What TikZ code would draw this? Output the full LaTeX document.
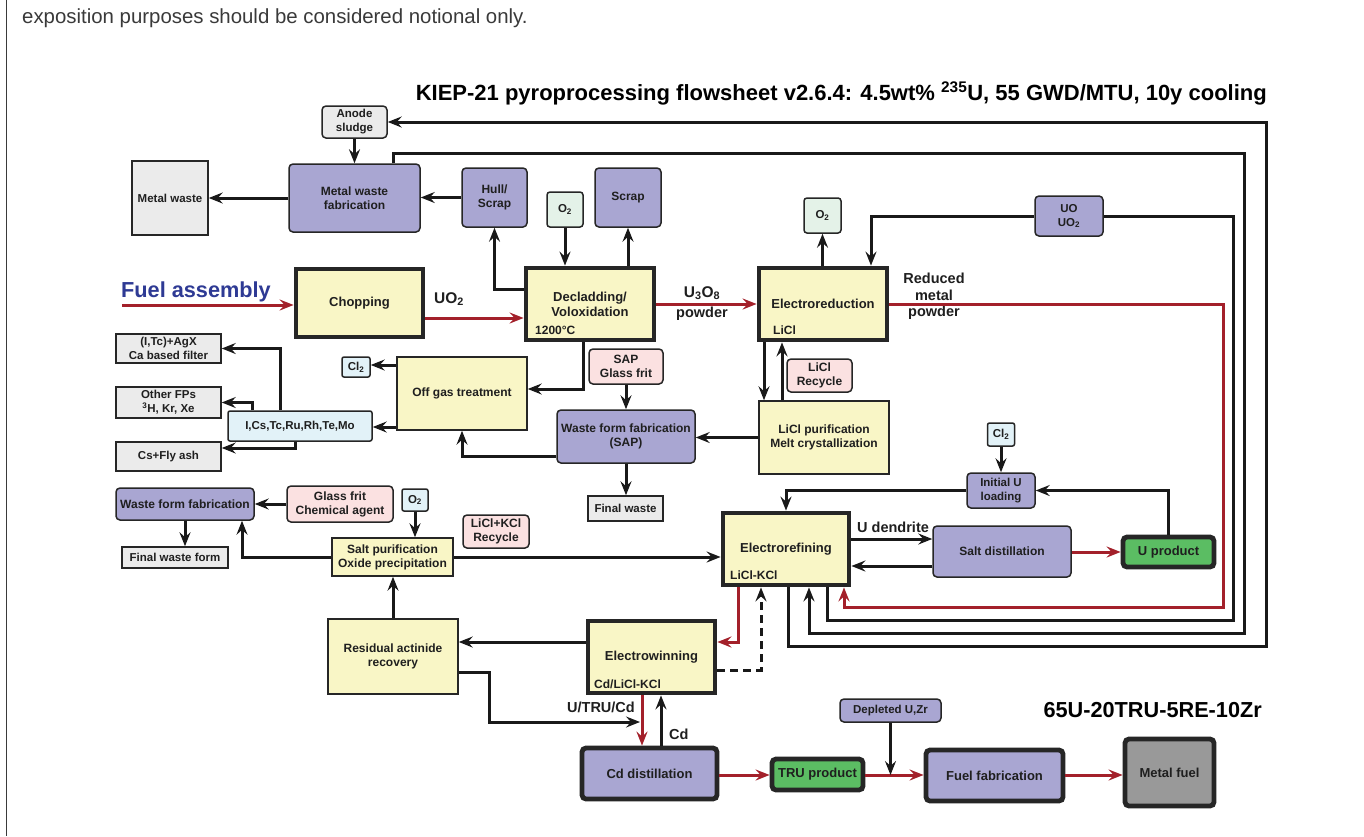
\documentclass[tikz,border=0pt]{standalone}
\usepackage{fontspec}
\setmainfont{Liberation Sans}
\usetikzlibrary{arrows.meta}

\definecolor{boxyellow}{HTML}{F9F6C6}
\definecolor{boxpurple}{HTML}{A9A6D2}
\definecolor{boxgray}{HTML}{EBEBEB}
\definecolor{boxpink}{HTML}{FBE1E1}
\definecolor{boxblue}{HTML}{E2F2F8}
\definecolor{boxmint}{HTML}{E4F2E8}
\definecolor{boxgreen}{HTML}{5BBD63}
\definecolor{boxdark}{HTML}{999999}
\definecolor{flowred}{HTML}{A3202A}
\definecolor{fuelblue}{HTML}{2E3A94}
\definecolor{notegray}{HTML}{3A3A3A}

\newcommand{\fsz}[2]{\fontsize{#1}{#2}\selectfont\bfseries}

\tikzset{
  box/.style={draw=black!85, line width=1.5pt, align=center, inner sep=0pt,
              text=black!88, font=\fsz{12}{14}},
  ybox/.style={box, fill=boxyellow},
  ythick/.style={ybox, line width=4.8pt, font=\fsz{13}{15}},
  pbox/.style={box, fill=boxpurple, rounded corners=4pt},
  pthick/.style={pbox, line width=4.8pt, font=\fsz{13}{15}},
  gbox/.style={box, fill=boxgray, font=\fsz{11.5}{14}},
  gsmall/.style={gbox, rounded corners=4pt},
  kbox/.style={box, fill=boxpink, rounded corners=4pt, font=\fsz{12}{14}},
  bbox/.style={box, fill=boxblue, rounded corners=2pt, font=\fsz{11.5}{14}},
  mbox/.style={box, fill=boxmint, rounded corners=3pt, font=\fsz{11.5}{14}},
  greenbox/.style={box, fill=boxgreen, rounded corners=4pt, line width=4.8pt, font=\fsz{13}{15}},
  fuelbox/.style={box, fill=boxdark, rounded corners=4pt, line width=4.8pt, font=\fsz{13}{15}},
  inlabel/.style={anchor=base west, inner sep=0pt, font=\fsz{12}{14}, text=black!88},
  flowlabel/.style={inner sep=0pt, font=\fsz{14.5}{15.5}, text=black!88},
  tip/.style={-{Stealth[length=14pt,width=11pt,inset=5pt]}},
  link/.style={line width=3pt, draw=black!90},
  arr/.style={link, tip},
  redarr/.style={line width=3pt, color=flowred, tip},
}

\begin{document}
\begin{tikzpicture}[x=1pt, y=-1pt]
  \useasboundingbox (0,0) rectangle (1364,836);
  \fill[white] (0,0) rectangle (1364,836);
  \draw[notegray, line width=1.6pt] (6.5,0) -- (6.5,836);

  % headings
  \node[anchor=base west, inner sep=0pt, text=notegray, font=\fontsize{20.4}{24}\selectfont] (note) at (22,23.5)
    {exposition purposes should be considered notional only.};
  \node[anchor=base east, inner sep=0pt, font=\fontsize{22}{26}\selectfont\bfseries] (title) at (1267,100)
    {KIEP-21 pyroprocessing flowsheet v2.6.4: 4.5wt\% \textsuperscript{235}U, 55 GWD/MTU, 10y cooling};
  \node[anchor=base east, inner sep=0pt, font=\fontsize{21.7}{24}\selectfont\bfseries] (alloy) at (1262,717)
    {65U-20TRU-5RE-10Zr};
  \node[anchor=base west, inner sep=0pt, text=fuelblue, font=\fontsize{21.7}{24}\selectfont\bfseries] (fuel) at (121,297)
    {Fuel assembly};
  \coordinate (feed) at (122,305);

  % head end
  \node[gsmall, minimum width=65pt, minimum height=32pt] (anode) at (354.5,122) {Anode\\sludge};
  \node[gbox, minimum width=76pt, minimum height=74pt] (metalwaste) at (170,198) {Metal waste};
  \node[pbox, minimum width=131pt, minimum height=68pt] (mwf) at (354.5,198) {Metal waste\\fabrication};
  \node[pbox, minimum width=65pt, minimum height=59pt] (hull) at (494.5,197.5) {Hull/\\Scrap};
  \node[ythick, minimum width=127pt, minimum height=68pt] (chop) at (359.5,303) {Chopping};
  \node[ythick, minimum width=128pt, minimum height=72pt] (decl) at (590,304) {Decladding/\\Voloxidation};
  \node[mbox, minimum width=36pt, minimum height=35pt] (o2a) at (565,209.5) {O\textsubscript{2}};
  \node[pbox, minimum width=66pt, minimum height=59pt] (scrap) at (628,197.5) {Scrap};
  \node[ythick, minimum width=128pt, minimum height=72pt] (elred) at (823,304) {Electroreduction};
  \node[mbox, minimum width=37pt, minimum height=35pt] (o2b) at (822.5,215.5) {O\textsubscript{2}};
  \node[pbox, minimum width=68pt, minimum height=40pt, font=\fsz{11.5}{14}] (uo) at (1069,216) {UO\\UO\textsubscript{2}};
  \node[inlabel] (decltemp) at (535,334) {1200°C};
  \node[inlabel] (elredsalt) at (773,334) {LiCl};

  % off gas
  \node[ybox, minimum width=130pt, minimum height=73pt] (offgas) at (462,393.5) {Off gas treatment};
  \node[bbox, minimum width=28pt, minimum height=20pt] (cl2a) at (356,367) {Cl\textsubscript{2}};
  \node[bbox, minimum width=144pt, minimum height=30pt] (ics) at (300,426) {I,Cs,Tc,Ru,Rh,Te,Mo};
  \node[gbox, minimum width=105pt, minimum height=29pt] (itc) at (168.5,348.5) {(I,Tc)+AgX\\Ca based filter};
  \node[gbox, minimum width=105pt, minimum height=31pt] (ofp) at (168.5,402.5) {Other FPs\\\textsuperscript{3}H, Kr, Xe};
  \node[gbox, minimum width=105pt, minimum height=29pt] (csfly) at (168.5,456.5) {Cs+Fly ash};

  % salt waste
  \node[kbox, minimum width=74pt, minimum height=35pt] (sapglass) at (626,366.5) {SAP\\Glass frit};
  \node[pbox, minimum width=138pt, minimum height=53pt] (sap) at (626,436.5) {Waste form fabrication\\(SAP)};
  \node[gbox, minimum width=75pt, minimum height=25pt] (finalwaste) at (625.5,508.5) {Final waste};
  \node[kbox, minimum width=65pt, minimum height=33pt] (licl) at (819.5,375.5) {LiCl\\Recycle};
  \node[ybox, minimum width=130pt, minimum height=73pt] (liclpur) at (824,437.5) {LiCl purification\\Melt crystallization};

  \node[pbox, minimum width=138pt, minimum height=32pt] (wffl) at (185,504) {Waste form fabrication};
  \node[kbox, minimum width=106pt, minimum height=36pt] (glassfrit) at (340,504) {Glass frit\\Chemical agent};
  \node[bbox, minimum width=26pt, minimum height=22pt] (o2c) at (415,500) {O\textsubscript{2}};
  \node[kbox, minimum width=66pt, minimum height=33pt] (liclkcl) at (496,531.5) {LiCl+KCl\\Recycle};
  \node[gbox, minimum width=106pt, minimum height=21pt] (finalwf) at (175,557.5) {Final waste form};
  \node[ybox, minimum width=121pt, minimum height=38pt] (saltpur) at (392.5,557) {Salt purification\\Oxide precipitation};

  % electrorefining
  \node[ythick, minimum width=126pt, minimum height=72pt] (er) at (786,549) {Electrorefining};
  \node[inlabel] (ersalt) at (730,579) {LiCl-KCl};
  \node[bbox, minimum width=27pt, minimum height=23pt] (cl2b) at (1001,434.5) {Cl\textsubscript{2}};
  \node[pbox, minimum width=68pt, minimum height=35pt, font=\fsz{11.5}{14}] (initu) at (1001,490.5) {Initial U\\loading};
  \node[pbox, minimum width=138pt, minimum height=51pt] (saltdist) at (1002,551.5) {Salt distillation};
  \node[greenbox, minimum width=91pt, minimum height=30pt] (uprod) at (1168.5,552) {U product};

  % electrowinning and fuel
  \node[ybox, minimum width=130pt, minimum height=75pt] (resid) at (393,656.5) {Residual actinide\\recovery};
  \node[ythick, minimum width=127pt, minimum height=72pt] (ew) at (651.5,657) {Electrowinning};
  \node[inlabel] (ewsalt) at (594,688) {Cd/LiCl-KCl};
  \node[pthick, minimum width=135pt, minimum height=51pt] (cddist) at (649.5,773.5) {Cd distillation};
  \node[greenbox, minimum width=91pt, minimum height=31pt] (tru) at (817.5,774.5) {TRU product};
  \node[pthick, minimum width=137pt, minimum height=51pt] (fuelfab) at (994.5,775.5) {Fuel fabrication};
  \node[fuelbox, minimum width=89pt, minimum height=67pt] (metalfuel) at (1169.5,772.5) {Metal fuel};
  \node[pbox, minimum width=101pt, minimum height=23pt, font=\fsz{11.5}{14}] (depl) at (890.5,710.5) {Depleted U,Zr};

  % stream labels
  \node[flowlabel, anchor=base west, font=\fsz{15.5}{17}] (uo2lbl) at (434,303) {UO\textsubscript{2}};
  \node[flowlabel, anchor=base, font=\fsz{15.5}{17}] (u3o8lbl) at (702,297) {U\textsubscript{3}O\textsubscript{8}};
  \node[flowlabel, anchor=base] (powderlbl) at (702,317) {powder};
  \node[flowlabel, anchor=north, align=center, font=\fsz{14.5}{16.5}] (rmplbl) at (934,273) {Reduced\\metal\\powder};
  \node[flowlabel, anchor=base west] (dendlbl) at (857,532) {U dendrite};
  \node[flowlabel, anchor=base east] (utrulbl) at (635,712) {U/TRU/Cd};
  \node[flowlabel, anchor=base west] (cdlbl) at (669,739) {Cd};
  \coordinate (redjoin) at (640,722);

  % main red product route
  \draw[redarr] (feed) -- (chop.west |- feed);
  \draw[redarr] (chop.east |- 0,318) -- (decl.west |- 0,318);
  \draw[redarr] (decl.east) -- (elred.west);
  \draw[redarr] (elred.east) -| (1223,607) -| (er.south -| 844,0);
  \draw[redarr] (er.south -| 738,0) |- (ew.east |- 0,642);
  \draw[redarr] (ew.south -| 642,0) -- (cddist.north -| 642,0);
  \draw[redarr] (cddist.east |- 0,775) -- (tru.west |- 0,775);
  \draw[redarr] (tru.east |- 0,775) -- (fuelfab.west |- 0,775);
  \draw[redarr] (fuelfab.east |- 0,775) -- (metalfuel.west |- 0,775);
  \draw[redarr] (saltdist.east |- 0,552) -- (uprod.west |- 0,552);

  % recycle loops to the right
  \draw[arr] ([xshift=2pt]er.south) |- (1266,646) |- (anode.east);
  \draw[arr] (mwf.north -| 393,0) |- (1244,153) |- (809,633) -- (er.south -| 809,0);
  \draw[link] (er.south -| 827,0) |- (1233,620) |- (uo.east);
  \draw[arr] (uo.west) -| (elred.north -| 871,0);

  % head end links
  \draw[arr] (anode.south) -- (mwf.north -| anode.south);
  \draw[arr] (hull.west) -- (mwf.east |- hull.west);
  \draw[arr] (mwf.west) -- (metalwaste.east);
  \draw[arr] (decl.west |- 0,289) -| (hull.south);
  \draw[arr] (o2a.south) -- (decl.north -| o2a.south);
  \draw[arr] (decl.north -| scrap.south) -- (scrap.south);
  \draw[arr] (elred.north -| o2b.south) -- (o2b.south);

  % off gas links
  \draw[arr] (decl.south -| 583,0) |- (offgas.east |- 0,389);
  \draw[arr] (offgas.west |- 0,365) -- (cl2a.east |- 0,365);
  \draw[arr] (offgas.west |- 0,427) -- (ics.east |- 0,427);
  \draw[arr] (ics.north -| 280,0) |- (itc.east);
  \draw[arr] (ics.north -| 252,0) |- (ofp.east);
  \draw[arr] (ics.south -| 295,0) |- (csfly.east |- 0,448);

  % salt waste links
  \draw[arr] (elred.south -| 764,0) -- (liclpur.north -| 764,0);
  \draw[arr] (liclpur.north -| 782,0) -- (elred.south -| 782,0);
  \draw[arr] (liclpur.west) -- (sap.east |- liclpur.west);
  \draw[arr] (sapglass.south) -- (sap.north);
  \draw[arr] (sap.south) -- (finalwaste.north -| sap.south);
  \draw[arr] (sap.west |- 0,456) -| (offgas.south);

  \draw[arr] (glassfrit.west) -- (wffl.east |- glassfrit.west);
  \draw[arr] (wffl.south) -- (finalwf.north -| wffl.south);
  \draw[arr] (o2c.south) -- (saltpur.north -| o2c.south);
  \draw[arr] (saltpur.west) -| (wffl.south -| 242,0);
  \draw[arr] (saltpur.east) -- (er.west |- saltpur.east);
  \draw[arr] (resid.north) -- (saltpur.south -| resid.north);

  % electrorefining links
  \draw[arr] (cl2b.south) -- (initu.north);
  \draw[arr] (initu.west) -| (er.north);
  \draw[arr] (uprod.north) |- (initu.east);
  \draw[arr] (er.east |- 0,539) -- (saltdist.west |- 0,539);
  \draw[arr] (saltdist.west |- 0,566) -- (er.east |- 0,566);

  % electrowinning links
  \draw[arr, dash pattern=on 8pt off 5pt] (ew.east |- 0,670) -| (er.south -| 761,0);
  \draw[arr] (ew.west |- 0,642) -- (resid.east |- 0,642);
  \draw[arr] (resid.east |- 0,672) -| (489,722) -- (redjoin);
  \draw[arr] (cddist.north -| 661,0) -- (ew.south -| 661,0);
  \draw[arr] (depl.south) -- (depl.south |- 0,775);
\end{tikzpicture}
\end{document}
